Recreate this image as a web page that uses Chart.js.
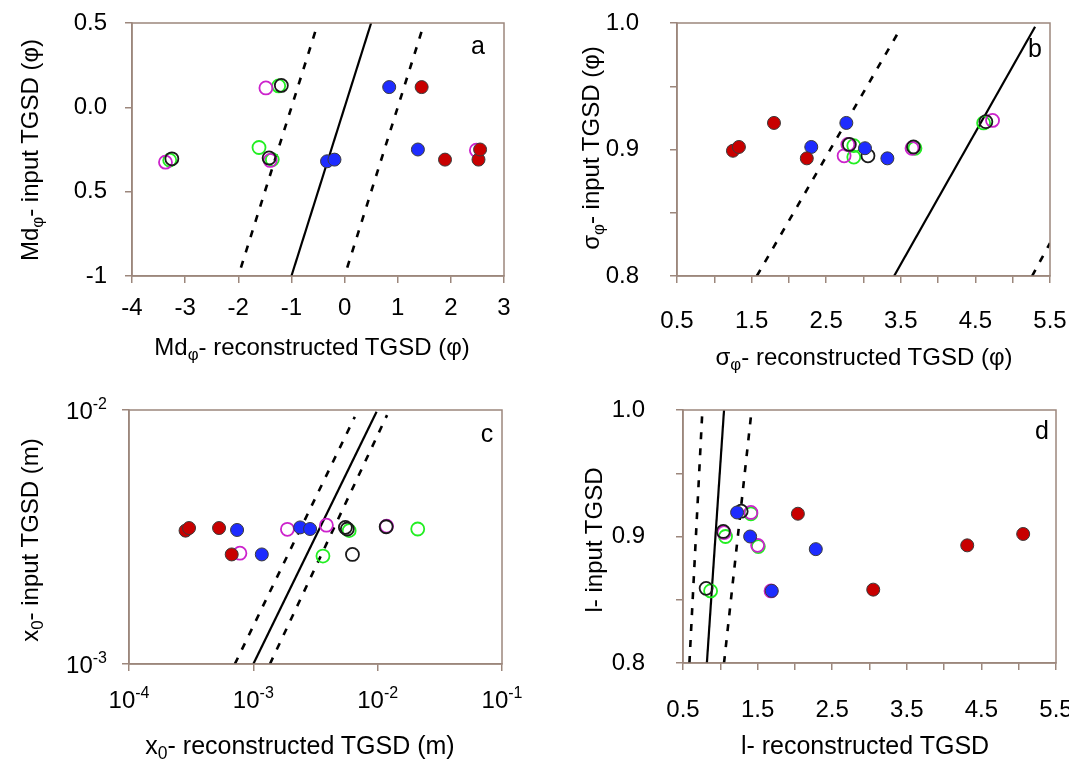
<!DOCTYPE html>
<html>
<head>
<meta charset="utf-8">
<script src="https://cdn.jsdelivr.net/npm/chart.js@4.4.1/dist/chart.umd.min.js"></script>
<style>
  body { margin: 0; background: #fff; }
  #page { position: relative; width: 1069px; height: 763px; overflow: hidden; font-family: "Liberation Sans", Arial, sans-serif; color: #000; }
  canvas { position: absolute; }
  .t { position: absolute; white-space: nowrap; font-size: 24px; line-height: 1; transform: translate(-50%, -50%); }
  .rot { transform: translate(-50%, -50%) rotate(-90deg); }
  .narrow { font-family: "Liberation Sans Narrow", "Liberation Sans", sans-serif; font-size: 25px; }
  .lab { font-size: 25px; }
  sub { font-size: 0.7em; vertical-align: -0.3em; line-height: 0; }
</style>
</head>
<body>
<div id="page">
  <canvas id="chartA" width="534" height="381" style="left:0;top:0"></canvas>
  <canvas id="chartB" width="535" height="381" style="left:534px;top:0"></canvas>
  <canvas id="chartC" width="534" height="382" style="left:0;top:381px"></canvas>
  <canvas id="chartD" width="535" height="382" style="left:534px;top:381px"></canvas>

  <div class="t" style="left:312px;top:347px">Md<sub>φ</sub>- reconstructed TGSD (φ)</div>
  <div class="t rot" style="left:30px;top:150px">Md<sub>φ</sub>- input TGSD (φ)</div>
  <div class="t" style="left:864px;top:357px">σ<sub>φ</sub>- reconstructed TGSD (φ)</div>
  <div class="t rot" style="left:591px;top:148px">σ<sub>φ</sub>- input TGSD (φ)</div>
  <div class="t narrow" style="left:300px;top:745px">x<sub>0</sub>- reconstructed TGSD (m)</div>
  <div class="t rot" style="left:30px;top:540px">x<sub>0</sub>- input TGSD (m)</div>
  <div class="t narrow" style="left:865px;top:745px">l- reconstructed TGSD</div>
  <div class="t rot" style="left:594px;top:540px">l- input TGSD</div>

  <div class="t lab" style="left:478px;top:45px">a</div>
  <div class="t lab" style="left:1035px;top:48px">b</div>
  <div class="t lab" style="left:487px;top:433px">c</div>
  <div class="t lab" style="left:1042px;top:430px">d</div>
</div>

<script>
// ---- panel a : Md (phi)
const aXTicks = [-4, -3, -2, -1, 0, 1, 2, 3];
const aXLabels = ["-4", "-3", "-2", "-1", "0", "1", "2", "3"];
const aYTicks = [-1, -0.5, 0, 0.5];
const aYLabels = ["-1", "0.5", "0.0", "0.5"];
const aRed = [[1.45, 0.12], [1.89, -0.31], [2.52, -0.31], [2.55, -0.25]];
const aBlue = [[0.84, 0.12], [-0.33, -0.32], [-0.19, -0.31], [1.38, -0.25]];
const aMagenta = [[-1.48, 0.115], [-1.40, -0.315], [-3.37, -0.325], [2.48, -0.254]];
const aGreen = [[-1.24, 0.127], [-1.61, -0.238], [-1.36, -0.31], [-3.29, -0.313]];
const aBlack = [[-1.19, 0.13], [-1.42, -0.30], [-3.25, -0.305]];
const aSolid = [[-1.0, -1.0], [0.5, 0.5]];
const aDashL = [[-1.95, -0.95], [-0.55, 0.45]];
const aDashR = [[0.05, -0.95], [1.45, 0.45]];

// ---- panel b : sigma (phi)
const bXTicks = [0.5, 1, 1.5, 2, 2.5, 3, 3.5, 4, 4.5, 5, 5.5];
const bXLabels = ["0.5", "", "1.5", "", "2.5", "", "3.5", "", "4.5", "", "5.5"];
const bYTicks = [0.8, 0.85, 0.9, 0.95, 1.0];
const bYLabels = ["0.8", "", "0.9", "", "1.0"];
const bRed = [[1.25, 0.899], [1.33, 0.902], [1.80, 0.921], [2.24, 0.893]];
const bBlue = [[2.30, 0.902], [2.77, 0.921], [3.02, 0.901], [3.32, 0.893]];
const bMagenta = [[2.79, 0.904], [2.74, 0.895], [3.65, 0.901], [4.73, 0.923]];
const bGreen = [[2.87, 0.903], [2.87, 0.894], [3.69, 0.901], [4.61, 0.921]];
const bBlack = [[2.81, 0.904], [3.06, 0.895], [3.67, 0.902], [4.64, 0.922]];
const bSolid = [[3.41, 0.8], [5.30, 0.997]];
const bDashL = [[1.57, 0.8], [3.49, 0.995]];
const bDashR = [[5.26, 0.8], [5.5, 0.826]];

// ---- panel c : x0 (m), log axes
const cXExp = [-4, -3, -2, -1];
const cYExp = [-3, -2];
const cRed = [[2.85e-4, 0.00335], [3.04e-4, 0.00343], [5.3e-4, 0.00343], [6.7e-4, 0.0027]];
const cBlue = [[7.4e-4, 0.00337], [2.38e-3, 0.00345], [2.86e-3, 0.0034], [1.17e-3, 0.0027]];
const cMagenta = [[1.88e-3, 0.00339], [3.87e-3, 0.00352], [1.18e-2, 0.00349], [7.8e-4, 0.00273]];
const cGreen = [[5.9e-3, 0.00335], [2.1e-2, 0.0034], [3.63e-3, 0.00266]];
const cBlack = [[5.5e-3, 0.00345], [5.7e-3, 0.0034], [1.17e-2, 0.00347], [6.27e-3, 0.0027]];
const cSolid = [[1.0e-3, 1.0e-3], [9.8e-3, 9.85e-3]];
const cDashL = [[7.1e-4, 1.0e-3], [6.55e-3, 9.4e-3]];
const cDashR = [[1.36e-3, 1.0e-3], [1.19e-2, 9.55e-3]];

// ---- panel d : l
const dXTicks = bXTicks;
const dXLabels = bXLabels;
const dYTicks = bYTicks;
const dYLabels = bYLabels;
const dRed = [[2.04, 0.918], [4.31, 0.893], [5.06, 0.902], [3.05, 0.858]];
const dBlue = [[1.225, 0.919], [1.40, 0.900], [2.28, 0.890], [1.69, 0.857]];
const dMagenta = [[1.41, 0.919], [1.05, 0.903], [1.50, 0.893], [1.68, 0.857]];
const dGreen = [[1.41, 0.918], [1.07, 0.900], [1.51, 0.892], [0.87, 0.857]];
const dBlack = [[1.28, 0.920], [0.81, 0.859], [1.04, 0.904]];
const dSolid = [[0.82, 0.8], [1.05, 1.0]];
const dDashL = [[0.586, 0.8], [0.76, 1.0]];
const dDashR = [[1.05, 0.8], [1.42, 1.0]];

const brown = "#9c877c";
const regular = "'Liberation Sans', Arial, sans-serif";
const narrow = "'Liberation Sans Narrow', 'Liberation Sans', sans-serif";

function toXY(pts) {
  return pts.map((p) => ({ x: p[0], y: p[1] }));
}

function pointSet(pts, color, filled) {
  return {
    data: toXY(pts),
    pointRadius: 6.5,
    pointHoverRadius: 6.5,
    pointBorderWidth: filled ? 1 : 1.8,
    backgroundColor: filled ? color : "rgba(0,0,0,0)",
    borderColor: filled ? "#3a3a3a" : color,
    order: 1,
  };
}

function lineSet(pts, dashed) {
  return {
    data: toXY(pts),
    showLine: true,
    pointRadius: 0,
    borderColor: "#000",
    borderWidth: dashed ? 2.6 : 2.2,
    borderDash: dashed ? [7, 9] : [],
    order: 2,
  };
}

function axis(o) {
  return {
    type: o.log ? "logarithmic" : "linear",
    min: o.min,
    max: o.max,
    afterBuildTicks: (s) => {
      s.ticks = o.ticks.map((v) => ({ value: v }));
    },
    afterFit: (s) => {
      if (o.w != null) s.width = o.w;
      if (o.h != null) s.height = o.h;
      // plot area is placed by hand, so no extra room for edge labels
      s.paddingTop = 0;
      s.paddingBottom = 0;
      s.paddingLeft = 0;
      s.paddingRight = 0;
    },
    ticks: {
      autoSkip: false,
      maxRotation: 0,
      padding: o.pad,
      color: "#000",
      font: { family: o.font || regular, size: 24 },
      callback: (v, i) => (o.labels ? o.labels[i] : ""),
    },
    grid: { drawOnChartArea: false, drawTicks: true, tickLength: 7, color: brown, lineWidth: 1.5 },
    border: { color: brown, width: 1.5 },
  };
}

// frame round the plot area
const framePlugin = {
  id: "frame",
  afterDraw(chart) {
    const a = chart.chartArea;
    const ctx = chart.ctx;
    ctx.save();
    ctx.strokeStyle = brown;
    ctx.lineWidth = 1.5;
    ctx.strokeRect(a.left, a.top, a.right - a.left, a.bottom - a.top);
    ctx.restore();
  },
};

// 10^n labels with a raised exponent for the log panel
const supPlugin = {
  id: "supLabels",
  afterDraw(chart, args, opts) {
    if (!opts.x) return;
    const ctx = chart.ctx;
    const xs = chart.scales.x;
    const ys = chart.scales.y;
    ctx.save();
    ctx.fillStyle = "#000";
    ctx.textBaseline = "alphabetic";
    opts.x.forEach((e) => {
      const p = xs.getPixelForValue(Math.pow(10, e));
      ctx.font = "24px " + narrow;
      const wb = ctx.measureText("10").width;
      ctx.font = "16px " + narrow;
      const we = ctx.measureText(String(e)).width;
      const x0 = p - (wb + we) / 2;
      ctx.font = "24px " + narrow;
      ctx.fillText("10", x0, chart.chartArea.bottom + opts.xOff);
      ctx.font = "16px " + narrow;
      ctx.fillText(String(e), x0 + wb, chart.chartArea.bottom + opts.xOff - 10);
    });
    opts.y.forEach((e) => {
      const p = ys.getPixelForValue(Math.pow(10, e));
      ctx.font = "16px " + regular;
      const we = ctx.measureText(String(e)).width;
      ctx.font = "24px " + regular;
      const wb = ctx.measureText("10").width;
      const right = chart.chartArea.left - opts.yOff;
      ctx.fillText("10", right - we - wb, p + 9);
      ctx.font = "16px " + regular;
      ctx.fillText(String(e), right - we, p - 1);
    });
    ctx.restore();
  },
};

function makeChart(id, sets, xAxis, yAxis, pad, sup) {
  const ctx = document.getElementById(id).getContext("2d");
  return new Chart(ctx, {
    type: "scatter",
    data: { datasets: sets },
    options: {
      responsive: false,
      animation: false,
      devicePixelRatio: 1,
      layout: { padding: pad },
      plugins: { legend: { display: false }, tooltip: { enabled: false }, supLabels: sup || {} },
      scales: { x: xAxis, y: yAxis },
    },
    plugins: [framePlugin, supPlugin],
  });
}

function seriesFor(red, blue, magenta, green, black, solid, dashL, dashR) {
  return [
    lineSet(solid, false),
    lineSet(dashL, true),
    lineSet(dashR, true),
    pointSet(red, "#c80000", true),
    pointSet(blue, "#1e2cff", true),
    pointSet(black, "#1a1a1a", false),
    pointSet(magenta, "#cc22cc", false),
    pointSet(green, "#22ee22", false),
  ];
}

window.onload = () => {
  makeChart(
    "chartA",
    seriesFor(aRed, aBlue, aMagenta, aGreen, aBlack, aSolid, aDashL, aDashR),
    axis({ min: -4, max: 3, ticks: aXTicks, labels: aXLabels, pad: 11, h: 105 }),
    axis({ min: -1, max: 0.5, ticks: aYTicks, labels: aYLabels, pad: 18, w: 132 }),
    { left: 0, top: 23, right: 30, bottom: 0 }
  );

  makeChart(
    "chartB",
    seriesFor(bRed, bBlue, bMagenta, bGreen, bBlack, bSolid, bDashL, bDashR),
    axis({ min: 0.5, max: 5.5, ticks: bXTicks, labels: bXLabels, pad: 24, h: 105 }),
    axis({ min: 0.8, max: 1.0, ticks: bYTicks, labels: bYLabels, pad: 31, w: 143 }),
    { left: 0, top: 23, right: 19, bottom: 0 }
  );

  makeChart(
    "chartC",
    seriesFor(cRed, cBlue, cMagenta, cGreen, cBlack, cSolid, cDashL, cDashR),
    axis({ log: true, min: 1e-4, max: 1e-1, ticks: cXExp.map((e) => Math.pow(10, e)), pad: 8, h: 99 }),
    axis({ log: true, min: 1e-3, max: 1e-2, ticks: cYExp.map((e) => Math.pow(10, e)), pad: 8, w: 129 }),
    { left: 0, top: 29, right: 32, bottom: 0 },
    { x: cXExp, y: cYExp, xOff: 44, yOff: 22 }
  );

  makeChart(
    "chartD",
    seriesFor(dRed, dBlue, dMagenta, dGreen, dBlack, dSolid, dDashL, dDashR),
    axis({ min: 0.5, max: 5.5, ticks: dXTicks, labels: dXLabels, pad: 26, h: 100, font: narrow }),
    axis({ min: 0.8, max: 1.0, ticks: dYTicks, labels: dYLabels, pad: 31, w: 149 }),
    { left: 0, top: 29, right: 13, bottom: 0 }
  );
};
</script>
</body>
</html>
